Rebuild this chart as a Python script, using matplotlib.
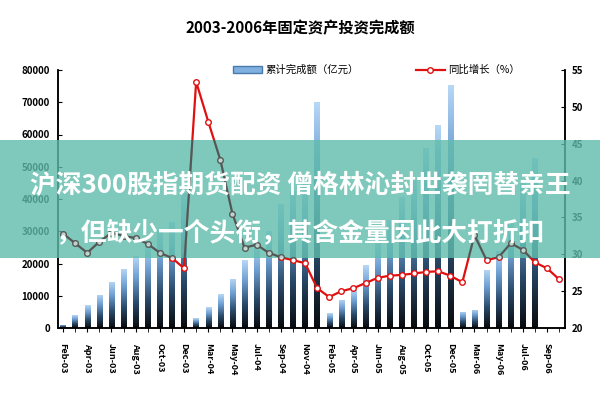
import numpy as np
import matplotlib.pyplot as plt
from matplotlib.colors import LinearSegmentedColormap
from matplotlib.patches import Rectangle, Patch
from matplotlib.lines import Line2D

plt.rcParams['font.family'] = ['Noto Sans CJK SC', 'DejaVu Sans']

# monthly slots, Feb-03 .. Oct-06 (Jan is merged into Feb)
month_names = ['Feb', 'Mar', 'Apr', 'May', 'Jun', 'Jul', 'Aug', 'Sep', 'Oct', 'Nov', 'Dec']
labels = ([m + '-03' for m in month_names] + [m + '-04' for m in month_names]
          + [m + '-05' for m in month_names] + [m + '-06' for m in month_names[:9]])

# 累计完成额 (亿元)
invest_03 = [1000, 4000, 7000, 10300, 14300, 18300, 22300, 25500, 30300, 33000, 42000]
invest_04 = [3100, 6500, 10500, 15200, 21000, 25500, 30000, 38500, 42500, 44500, 70000]
invest_05 = [4600, 8700, 11800, 19500, 27200, 33500, 40500, 46000, 55700, 62800, 75200]
invest_06 = [5000, 5600, 18000, 24000, 32500, 45000, 52600, np.nan, np.nan]

# 同比增长 (%)
growth_03 = [32.8, 31.5, 30.2, 31.7, 32.9, 32.5, 32.2, 31.4, 30.2, 29.5, 28.1]
growth_04 = [53.4, 48.0, 42.8, 35.5, 30.9, 31.3, 30.2, 29.6, 29.2, 28.8, 25.4]
growth_05 = [24.2, 25.0, 25.4, 26.1, 26.8, 27.1, 27.2, 27.4, 27.6, 27.7, 27.1]
growth_06 = [26.2, 32.6, 29.2, 29.6, 31.5, 30.6, 28.9, 28.1, 26.6]

invest = invest_03 + invest_04 + invest_05 + invest_06
growth = growth_03 + growth_04 + growth_05 + growth_06

title = '2003-2006年固定资产投资完成额'
banner_1 = '沪深300股指期货配资 僧格林沁封世袭罔替亲王'
banner_2 = '，但缺少一个头衔，其含金量因此大打折扣'

bar_cmap = LinearSegmentedColormap.from_list(
    'barfade', [(0, '#080a0d'), (0.35, '#2a4a6a'), (0.7, '#6e9fd2'), (1, '#b8d8f6')])

fig = plt.figure(figsize=(6, 4), dpi=100)
ax = fig.add_axes([0.097, 0.18, 0.845, 0.645])
ax2 = ax.twinx()

x = np.arange(len(labels))

# bars with a vertical fade, drawn as images clipped to the bar patches
bars = ax.bar(x, invest, width=0.45, color='none', edgecolor='none', zorder=2)
grad = np.linspace(0, 1, 256).reshape(-1, 1)
for b in bars:
    h = b.get_height()
    if np.isnan(h) or h <= 0:
        continue
    im = ax.imshow(grad, extent=(b.get_x(), b.get_x() + b.get_width(), 0, h),
                   origin='lower', aspect='auto', cmap=bar_cmap, zorder=2)
    im.set_clip_path(b)

ax2.plot(x, growth, color='#e01010', lw=1.6, marker='o', ms=4,
         mfc='white', mec='#e01010', mew=1, zorder=3)

ax.set_xlim(-0.4, 41.5)
ax.set_ylim(0, 80000)
ax2.set_ylim(20, 55)

ax.set_yticks(np.arange(0, 80001, 10000))
ax2.set_yticks(np.arange(20, 56, 5))
ax.set_xticks(x[::2])
ax.set_xticklabels(labels[::2], rotation=270, fontsize=6.5, fontweight='bold')
ax.set_xticks(x, minor=True)

ax.tick_params(axis='y', labelsize=7, direction='in', length=3, pad=6)
ax2.tick_params(axis='y', labelsize=7, direction='in', length=3, pad=5)
ax.tick_params(axis='x', which='both', direction='out', length=3, pad=8)
for lab in ax.get_yticklabels() + ax2.get_yticklabels():
    lab.set_fontweight('bold')

for a in (ax, ax2):
    a.spines['top'].set_visible(False)
    for s in ('left', 'right', 'bottom'):
        a.spines[s].set_linewidth(1.1)

fig.text(0.5, 0.93, title, ha='center', va='center', fontsize=11, fontweight='bold')

handles = [Patch(facecolor='#7fb0e0', edgecolor='#4a7aaa'),
           Line2D([], [], color='#e01010', lw=1.6, marker='o', ms=4, mfc='white', mec='#e01010')]
fig.legend(handles, ['累计完成额（亿元）', '同比增长（%）'], loc='center',
           bbox_to_anchor=(0.627, 0.825), ncol=2, frameon=False, fontsize=7.5,
           handlelength=2.8, handletextpad=0.3, columnspacing=5.5)

# teal banner over the middle of the chart
banner = Rectangle((0, 0.355), 1, 0.295, transform=fig.transFigure, facecolor='#5fbcab',
                   alpha=0.8, edgecolor='none', zorder=10, clip_on=False)
ax2.add_artist(banner)
clip = Rectangle((0, 0.355), 1, 0.295, transform=fig.transFigure)
shade, = ax2.plot(x, growth, color='#4d4d4d', lw=1.5, marker='o', ms=4,
                  mfc='#cfe3de', mec='#4d4d4d', mew=1, zorder=11, alpha=0.85)
shade.set_clip_path(clip)

fig.text(0.5, 0.5375, banner_1, ha='center', va='center', color='white',
         fontsize=18.5, fontweight='bold')
fig.text(0.5, 0.4175, banner_2, ha='center', va='center', color='white',
         fontsize=18.5, fontweight='bold')

fig.savefig('out.png', dpi=100)
